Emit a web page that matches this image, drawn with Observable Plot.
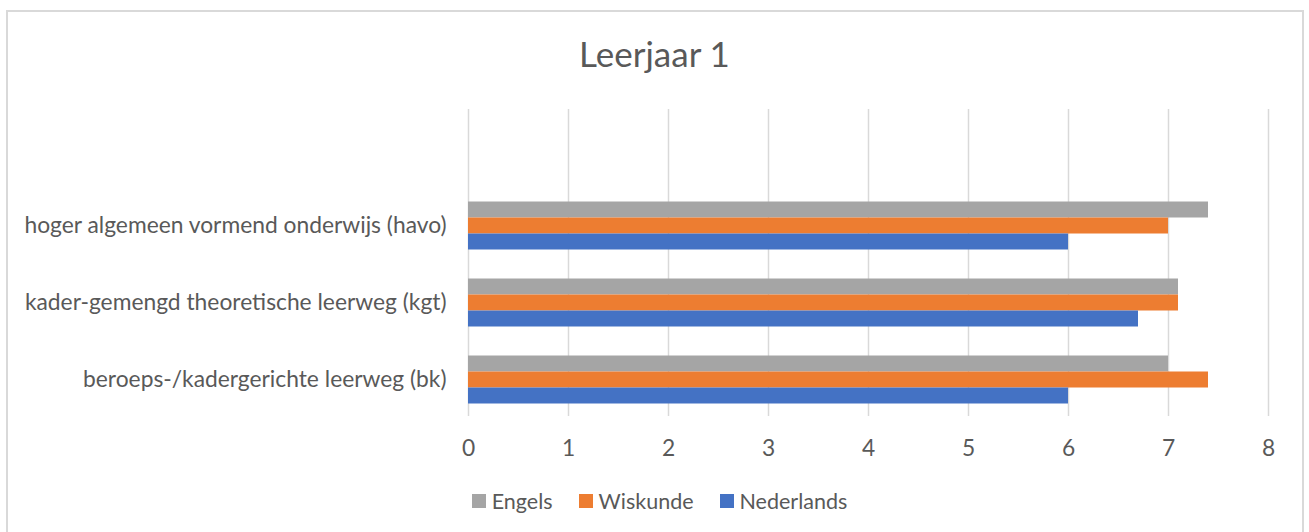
<!DOCTYPE html>
<html>
<head>
<meta charset="utf-8">
<script src="https://cdn.jsdelivr.net/npm/d3@7"></script>
<script src="https://cdn.jsdelivr.net/npm/@observablehq/plot@0.6"></script>
<style>
  html, body { margin: 0; padding: 0; background: #fff; }
  #wrap { position: relative; width: 1309px; height: 532px; overflow: hidden; background: #fff; font-family: Lato, "Open Sans", sans-serif; color: #595959; }
  #border { position: absolute; left: 6px; top: 10px; width: 1298px; height: 560px; border: 2px solid #d9d9d9; box-sizing: border-box; }
  #title { position: absolute; left: 0; width: 1309px; top: 32px; text-align: center; font-size: 35px; color: #595959; }
  #chart { position: absolute; left: 0; top: 0; }
  #legend { position: absolute; left: 0; width: 1319px; top: 488px; display: flex; justify-content: center; gap: 26px; font-size: 21.5px; color: #595959; }
  .item { display: flex; align-items: center; gap: 6px; }
  .sw { width: 14px; height: 14px; display: inline-block; }
</style>
</head>
<body>
<div id="wrap">
  <div id="border"></div>
  <div id="title"></div>
  <div id="chart"></div>
  <div id="legend"></div>
</div>
<script>
const title = "Leerjaar 1";
const categories = [
  "hoger algemeen vormend onderwijs (havo)",
  "kader-gemengd theoretische leerweg (kgt)",
  "beroeps-/kadergerichte leerweg (bk)"
];
const series = ["Engels", "Wiskunde", "Nederlands"];
const colors = ["#A5A5A5", "#ED7D31", "#4472C4"];
const engels = [7.4, 7.1, 7.0];
const wiskunde = [7.0, 7.1, 7.4];
const nederlands = [6.0, 6.7, 6.0];
const xTicks = [0, 1, 2, 3, 4, 5, 6, 7, 8];

const values = [engels, wiskunde, nederlands];
const rows = [];
series.forEach((s, si) => categories.forEach((c, ci) => rows.push({category: c, series: s, value: values[si][ci]})));

document.getElementById("title").textContent = title;

const barH = 16;
const step = 77;
const marks = [Plot.ruleX(xTicks, {stroke: "#d9d9d9", strokeWidth: 1.5})];
series.forEach((s, si) => {
  marks.push(Plot.barX(rows.filter(d => d.series === s), {
    x: "value", y: "category", fill: "series",
    insetTop: (step - barH) / 2, insetBottom: (step - barH) / 2,
    dy: (si - 1) * barH
  }));
});

const chart = Plot.plot({
  width: 1309,
  height: 470,
  marginLeft: 468,
  marginRight: 41,
  marginTop: 109,
  marginBottom: 54,
  style: {fontFamily: "Lato, 'Open Sans', sans-serif", fontSize: "22.8px", color: "#595959", background: "transparent", overflow: "visible"},
  x: {domain: [0, 8], ticks: xTicks, tickSize: 0, tickPadding: 23, label: null, tickFormat: d => String(d)},
  y: {domain: categories, range: [186.5, 417.5], padding: 0, tickSize: 0, tickPadding: 22, label: null},
  color: {domain: series, range: colors},
  marks
});
document.getElementById("chart").appendChild(chart);

const legend = document.getElementById("legend");
series.forEach((s, i) => {
  const it = document.createElement("div");
  it.className = "item";
  const sw = document.createElement("span");
  sw.className = "sw";
  sw.style.background = colors[i];
  const t = document.createElement("span");
  t.textContent = s;
  it.appendChild(sw); it.appendChild(t);
  legend.appendChild(it);
});
</script>
</body>
</html>
